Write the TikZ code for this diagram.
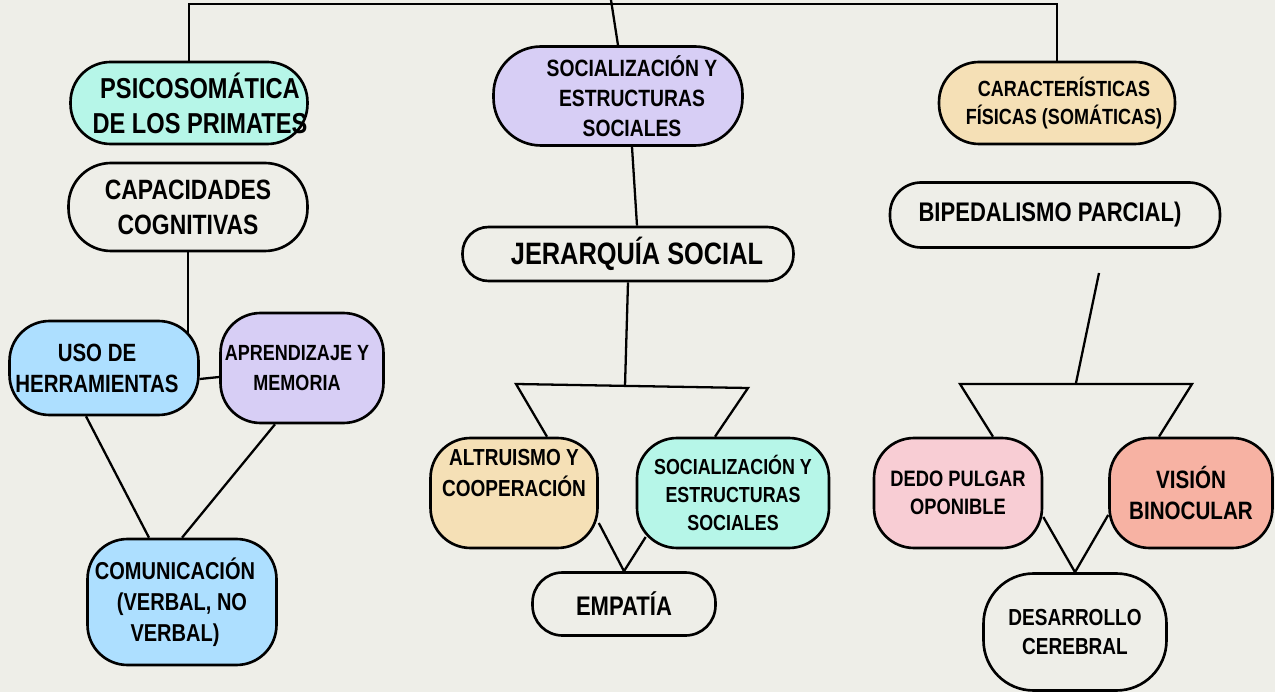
\documentclass[tikz,border=0pt]{standalone}
\usepackage{fontspec}
\setmainfont{Liberation Sans}[FakeStretch=0.82]
\usetikzlibrary{calc}
\pgfdeclarelayer{fondo}
\pgfsetlayers{fondo,main}
\definecolor{gris}{RGB}{238,238,232}
\definecolor{cian}{RGB}{182,246,232}
\definecolor{lila}{RGB}{215,206,245}
\definecolor{arena}{RGB}{245,224,182}
\definecolor{celeste}{RGB}{173,223,255}
\definecolor{rosa}{RGB}{248,205,212}
\definecolor{salmon}{RGB}{247,178,163}
\newcommand{\tam}[2]{\bfseries\fontsize{#1}{#2}\selectfont}

\begin{document}
\begin{tikzpicture}[x=0.02cm,y=-0.02cm,
  caja/.style={draw,line width=1.5pt,align=center,inner sep=0pt},
  liga/.style={line width=1.3pt}]
\useasboundingbox (0,0) rectangle (1275,692);

% columna izquierda
\node[caja,fill=cian,minimum width=4.74cm,minimum height=1.64cm,rounded corners=0.8cm,font=\tam{16.4}{19.8}] (psico) at (189,103) {\hspace*{0.44cm}PSICOSOMÁTICA\\\hspace*{0.44cm}DE LOS PRIMATES};
\node[caja,fill=gris,minimum width=4.78cm,minimum height=1.76cm,rounded corners=0.85cm,font=\tam{15.9}{19.8}] (capac) at (188,207) {CAPACIDADES\\COGNITIVAS};
\node[caja,fill=celeste,minimum width=3.78cm,minimum height=1.88cm,rounded corners=0.8cm,font=\tam{14.2}{17.6}] (uso) at (104,368) {USO DE\hspace*{0.28cm}\\HERRAMIENTAS\hspace*{0.28cm}};
\node[caja,fill=lila,minimum width=3.26cm,minimum height=2.2cm,rounded corners=0.8cm,font=\tam{12.5}{17}] (aprend) at (302,368) {APRENDIZAJE Y\hspace*{0.2cm}\\MEMORIA\hspace*{0.2cm}};
\node[caja,fill=celeste,minimum width=3.78cm,minimum height=2.52cm,rounded corners=0.8cm,font=\tam{13.9}{17.6}] (comun) at (182,602) {COMUNICACIÓN\hspace*{0.28cm}\\(VERBAL, NO\hspace*{0.28cm}\\VERBAL)\hspace*{0.28cm}};

% columna central
\node[caja,fill=lila,minimum width=4.98cm,minimum height=1.98cm,rounded corners=0.95cm,font=\tam{13.4}{17}] (soc) at (618,96) {\hspace*{0.56cm}SOCIALIZACIÓN Y\\\hspace*{0.56cm}ESTRUCTURAS\\\hspace*{0.56cm}SOCIALES};
\node[caja,fill=gris,minimum width=6.62cm,minimum height=1.08cm,rounded corners=0.52cm,font=\tam{17.6}{20}] (jerarq) at (628,254) {\hspace*{0.36cm}JERARQUÍA SOCIAL};
\node[caja,fill=arena,minimum width=3.34cm,minimum height=2.2cm,rounded corners=0.8cm,text depth=0.8cm,font=\tam{13.2}{17.6}] (altru) at (514,493) {ALTRUISMO Y\\COOPERACIÓN};
\node[caja,fill=cian,minimum width=3.84cm,minimum height=2.2cm,rounded corners=0.8cm,font=\tam{12.4}{15.9}] (socest) at (733,493) {SOCIALIZACIÓN Y\\ESTRUCTURAS\\SOCIALES};
\node[caja,fill=gris,minimum width=3.66cm,minimum height=1.26cm,rounded corners=0.6cm,font=\tam{15.3}{18}] (empat) at (624,604) {EMPATÍA};

% columna derecha
\node[caja,fill=arena,minimum width=4.72cm,minimum height=1.64cm,rounded corners=0.8cm,font=\tam{12.5}{15.9}] (caract) at (1057,103) {\hspace*{0.28cm}CARACTERÍSTICAS\\\hspace*{0.28cm}FÍSICAS (SOMÁTICAS)};
\node[caja,fill=gris,minimum width=6.6cm,minimum height=1.3cm,rounded corners=0.62cm,font=\tam{15.3}{18}] (biped) at (1055,215) {BIPEDALISMO PARCIAL)\hspace*{0.2cm}};
\node[caja,fill=rosa,minimum width=3.36cm,minimum height=2.2cm,rounded corners=0.8cm,font=\tam{12.7}{15.9}] (dedo) at (958,493) {DEDO PULGAR\\OPONIBLE};
\node[caja,fill=salmon,minimum width=3.26cm,minimum height=2.2cm,rounded corners=0.8cm,font=\tam{14.3}{18}] (vision) at (1191,493) {VISIÓN\\BINOCULAR};
\node[caja,fill=gris,minimum width=3.66cm,minimum height=2.34cm,rounded corners=1cm,font=\tam{13.2}{17}] (desarr) at (1075,632) {DESARROLLO\\CEREBRAL};

% puntos libres de las ligas
\coordinate (arriba) at (0,4);
\coordinate (tope) at (611,0);
\coordinate (c1) at (625,386);
\coordinate (i1) at (516,384);
\coordinate (d1) at (748,388);
\coordinate (ini2) at (1099,273);
\coordinate (c2) at (1076,383);
\coordinate (i2) at (960,384);
\coordinate (d2) at (1192,384);

\begin{pgfonlayer}{fondo}
\fill[gris] (0,0) rectangle (1275,692);

% la llave de arriba
\draw[liga] (psico.north) -- (psico.north |- arriba) -- (caract.north |- arriba) -- (caract.north);
\draw[liga] (tope) -- (soc.north);

% las ligas de la izquierda
\draw[liga] (capac.south) -- (capac.south |- uso.center);
\draw[liga] ($(uso.east)+(0,11)$) -- ($(aprend.west)+(0,9)$);
\draw[liga] ($(uso.south)+(-18,0)$) -- ($(comun.north)+(-33,0)$);
\draw[liga] ($(aprend.south)+(-27,0)$) -- (comun.north);

% las ligas del centro
\draw[liga] ($(soc.south)+(14,0)$) -- ($(jerarq.north)+(9,0)$);
\draw[liga] (jerarq.south) -- (c1);
\draw[liga] ($(altru.north)+(33,0)$) -- (i1) -- (d1) -- ($(socest.north)+(-18,0)$);
\draw[liga] ($(altru.east)+(0,30)$) -- (empat.north) -- ($(socest.west)+(10,44)$);

% las ligas de la derecha
\draw[liga] (ini2) -- (c2);
\draw[liga] ($(dedo.north)+(35,0)$) -- (i2) -- (d2) -- ($(vision.north)+(-32,0)$);
\draw[liga] ($(dedo.east)+(0,24)$) -- (desarr.north) -- ($(vision.west)+(0,22)$);
\end{pgfonlayer}
\end{tikzpicture}
\end{document}
